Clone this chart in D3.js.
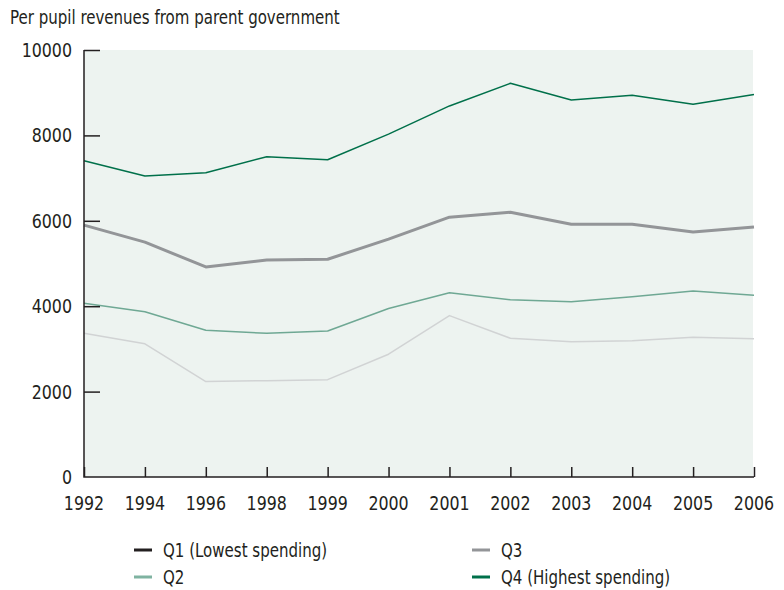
<!DOCTYPE html>
<html>
<head>
<meta charset="utf-8">
<script src="https://cdn.jsdelivr.net/npm/d3@7"></script>
<style>
  body { margin: 0; background: #fff; }
  svg text { font-family: "DejaVu Sans Condensed", "Liberation Sans Narrow", sans-serif; fill: #231f20; }
</style>
</head>
<body>
<svg id="chart" width="784" height="590"></svg>
<script>
const years = ['1992', '1994', '1996', '1998', '1999', '2000', '2001', '2002', '2003', '2004', '2005', '2006'];
const q1 = [3365, 3120, 2235, 2256, 2280, 2875, 3780, 3250, 3170, 3192, 3270, 3240];
const q2 = [4068, 3870, 3435, 3365, 3420, 3945, 4316, 4152, 4106, 4223, 4356, 4255];
const q3 = [5900, 5500, 4920, 5080, 5100, 5570, 6085, 6200, 5920, 5920, 5740, 5855];
const q4 = [7408, 7050, 7127, 7500, 7430, 8030, 8690, 9220, 8830, 8940, 8730, 8960];
const yTicks = [0, 2000, 4000, 6000, 8000, 10000];
const title = 'Per pupil revenues from parent government';

const series = [
  { name: 'Q1 (Lowest spending)', values: q1, color: '#d1d3d4', width: 1.5, legendColor: '#231f20' },
  { name: 'Q2', values: q2, color: '#6fa894', width: 1.5, legendColor: '#7fb3a1' },
  { name: 'Q3', values: q3, color: '#939598', width: 3, legendColor: '#939598' },
  { name: 'Q4 (Highest spending)', values: q4, color: '#00704a', width: 1.5, legendColor: '#00704a' }
];

const svg = d3.select('#chart');
const plotLeft = 84, plotRight = 754, plotTop = 50, plotBottom = 477;

const x = d3.scalePoint().domain(years).range([plotLeft, plotRight]);
const y = d3.scaleLinear().domain([0, 10000]).range([plotBottom, plotTop]);

// narrow text: squeeze horizontally to mimic the condensed face
function label(tx, ty, str, size, anchor) {
  return svg.append('text')
    .attr('transform', `translate(${tx},${ty}) scale(0.88,1)`)
    .attr('text-anchor', anchor || 'start')
    .attr('font-size', size)
    .text(str);
}

label(10, 24, title, 19);

// plot background
svg.append('rect')
  .attr('x', plotLeft).attr('y', plotTop)
  .attr('width', plotRight - plotLeft - 1).attr('height', plotBottom - plotTop)
  .attr('fill', '#edf3f0');

// lines (Q1 first so darker ones sit on top)
const line = d3.line()
  .x((d, i) => x(years[i]))
  .y(d => y(d));

series.forEach(s => {
  svg.append('path')
    .datum(s.values)
    .attr('d', line)
    .attr('fill', 'none')
    .attr('stroke', s.color)
    .attr('stroke-width', s.width)
    .attr('stroke-linejoin', 'round');
});

// y axis: ticks point inward
const yAxis = svg.append('g')
  .attr('transform', `translate(${plotLeft},0)`)
  .call(d3.axisRight(y).tickValues(yTicks).tickSize(16).tickFormat(''));
yAxis.select('.domain').remove();
yAxis.selectAll('line').attr('stroke', '#231f20').attr('stroke-width', 1.5);
yAxis.selectAll('.tick').filter(d => d === 0).remove();

yTicks.forEach(t => label(72, y(t) + 7, t, 20, 'end'));

// x axis: ticks point up
const xAxis = svg.append('g')
  .attr('transform', `translate(0,${plotBottom})`)
  .call(d3.axisTop(x).tickSize(10).tickFormat(''));
xAxis.select('.domain').remove();
xAxis.selectAll('line').attr('stroke', '#231f20').attr('stroke-width', 1.5);

years.forEach(yr => label(x(yr), 510, yr, 20, 'middle'));

// axis lines
svg.append('path')
  .attr('d', `M${plotLeft},${plotTop}V${plotBottom}H${plotRight}`)
  .attr('fill', 'none')
  .attr('stroke', '#231f20')
  .attr('stroke-width', 1.5);

// legend
const legendPos = [[134, 550], [134, 577], [472, 550], [472, 577]];
series.forEach((s, i) => {
  const [lx, ly] = legendPos[i];
  svg.append('line')
    .attr('x1', lx).attr('x2', lx + 18)
    .attr('y1', ly).attr('y2', ly)
    .attr('stroke', s.legendColor)
    .attr('stroke-width', 3);
  label(lx + 29, ly + 7, s.name, 19);
});
</script>
</body>
</html>
